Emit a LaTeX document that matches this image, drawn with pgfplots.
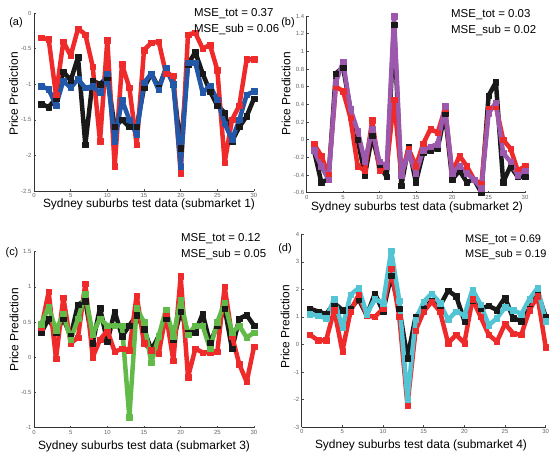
\documentclass[border=0pt]{standalone}
\usepackage{fontspec}
\setmainfont{Liberation Sans}
\usepackage{pgfplots}
\usepackage{pgfplotstable}
\pgfplotsset{compat=1.18}
\definecolor{cred}{RGB}{238,42,42}
\definecolor{cblk}{RGB}{25,25,25}
\definecolor{cblue}{RGB}{35,88,168}
\definecolor{cpurp}{RGB}{155,88,172}
\definecolor{cgreen}{RGB}{98,186,72}
\definecolor{ccyan}{RGB}{82,196,212}

\pgfplotstableread{
x blk red col
1 -1.28 -0.35 -1.03
2 -1.32 -0.37 -1.07
3 -1.20 -1.15 -1.30
4 -0.82 -0.40 -0.95
5 -0.95 -0.60 -1.05
6 -0.62 -0.22 -0.93
7 -1.85 -0.30 -1.05
8 -0.95 -0.75 -1.03
9 -1.00 -1.80 -1.12
10 -0.90 -0.38 -0.85
11 -1.60 -2.15 -1.80
12 -1.50 -0.72 -1.22
13 -1.60 -1.05 -1.50
14 -1.60 -1.85 -1.70
15 -1.05 -0.52 -0.98
16 -0.85 -0.42 -0.85
17 -1.05 -0.40 -1.08
18 -0.78 -0.85 -0.77
19 -1.00 -0.88 -1.00
20 -1.90 -2.25 -2.15
21 -0.72 -0.30 -0.70
22 -0.55 -0.28 -0.70
23 -0.85 -0.50 -1.12
24 -1.10 -0.45 -1.02
25 -1.30 -0.80 -1.22
26 -1.40 -2.10 -1.55
27 -1.80 -1.50 -1.78
28 -1.60 -1.30 -1.50
29 -1.45 -0.65 -1.15
30 -1.20 -0.65 -1.10
}\dataA

\pgfplotstableread{
x blk red col
1 -0.12 -0.05 -0.12
2 -0.48 -0.18 -0.30
3 -0.45 -0.40 -0.45
4 0.75 0.60 0.65
5 0.82 0.55 0.88
6 0.35 0.25 0.35
7 0.00 -0.30 0.10
8 -0.40 -0.35 -0.25
9 0.05 0.22 0.12
10 -0.30 -0.35 -0.25
11 -0.42 -0.30 -0.30
12 1.30 0.45 1.40
13 -0.52 -0.40 -0.40
14 -0.08 -0.10 -0.15
15 -0.48 -0.30 -0.38
16 -0.15 -0.05 -0.12
17 -0.12 0.12 -0.08
18 -0.10 0.08 -0.05
19 0.30 0.35 0.38
20 -0.45 -0.38 -0.38
21 -0.35 -0.18 -0.30
22 -0.48 -0.30 -0.38
23 -0.45 -0.45 -0.45
24 -0.60 -0.50 -0.55
25 0.50 0.35 0.30
26 0.65 0.38 0.42
27 -0.48 0.00 -0.15
28 -0.30 -0.10 -0.25
29 -0.42 -0.35 -0.40
30 -0.42 -0.30 -0.35
}\dataB

\pgfplotstableread{
x blk red col
1 0.35 0.42 0.47
2 0.55 0.93 0.72
3 0.35 -0.02 0.38
4 0.55 0.85 0.62
5 0.30 0.20 0.25
6 0.75 0.28 0.55
7 0.80 1.05 0.90
8 0.20 0.00 0.33
9 0.70 0.25 0.55
10 0.22 0.38 0.45
11 0.65 0.08 0.45
12 0.30 0.12 0.45
13 0.45 0.10 -0.85
14 0.60 0.88 0.70
15 0.40 0.20 0.50
16 0.10 0.10 -0.08
17 0.30 0.05 0.30
18 0.55 0.62 0.68
19 0.25 -0.05 0.30
20 0.65 1.15 0.82
21 0.35 -0.28 0.32
22 0.35 0.12 0.45
23 0.62 0.07 0.45
24 0.20 0.07 0.12
25 0.45 0.08 0.50
26 0.70 1.00 0.78
27 0.12 0.30 0.35
28 0.55 -0.10 0.45
29 0.60 -0.35 0.28
30 0.45 0.15 0.35
}\dataC

\pgfplotstableread{
x blk red col
1 1.30 0.35 1.10
2 1.20 0.15 1.05
3 1.10 0.15 0.95
4 1.50 1.25 1.65
5 1.25 -0.25 0.60
6 1.30 1.20 1.80
7 1.65 1.80 2.05
8 1.05 1.05 1.10
9 1.85 1.00 1.65
10 1.20 1.30 1.50
11 2.50 2.75 3.40
12 1.30 1.00 1.60
13 -0.50 -2.20 -2.00
14 1.00 0.50 0.90
15 1.30 1.20 1.55
16 1.60 1.55 1.85
17 1.40 1.20 1.50
18 1.95 0.05 0.90
19 1.75 0.35 1.20
20 0.85 0.05 1.05
21 1.60 1.65 2.00
22 1.30 1.00 1.45
23 1.40 0.35 0.70
24 1.25 0.10 0.95
25 1.70 0.75 1.35
26 0.95 0.40 1.25
27 0.85 0.35 1.10
28 1.30 1.25 1.65
29 1.90 1.75 2.05
30 1.00 -0.10 0.85
}\dataD

\pgfplotsset{
  panel/.style={
    scale only axis, anchor=south west,
    axis x line=bottom, axis y line=left,
    axis line style={-, black!80, line width=0.6bp},
    xmin=0, xmax=30, xtick={0,5,...,30},
    tick align=inside, major tick length=2bp,
    tick style={black!70, line width=0.5bp},
    tick label style={font=\fontsize{6}{6}\selectfont, text=black!60},
    xticklabel style={yshift=1bp},
    yticklabel style={xshift=1bp},
    /pgf/number format/assume math mode=true,
    clip=false,
  },
  ser/.style={color=#1, line width=4.5bp, line join=round, line cap=round, mark=square*, mark size=2.7bp, mark options={solid, line width=0.3bp}},
}

\begin{document}
\begin{tikzpicture}
\useasboundingbox (0,0) rectangle (549bp,-453bp);

% (a)
\begin{axis}[panel, at={(34bp,-191bp)}, width=220bp, height=178bp,
  ymin=-2.5, ymax=0, ytick={-2.5,-2,-1.5,-1,-0.5,0}]
\addplot[ser=cblk] table[x=x,y=blk] {\dataA};
\addplot[ser=cred] table[x=x,y=red] {\dataA};
\addplot[ser=cblue] table[x=x,y=col] {\dataA};
\end{axis}

% (b)
\begin{axis}[panel, at={(306.7bp,-192.7bp)}, width=218.3bp, height=176.7bp,
  ymin=-0.6, ymax=1.4, ytick={-0.6,-0.4,-0.2,0,0.2,0.4,0.6,0.8,1,1.2,1.4}]
\addplot[ser=cblk] table[x=x,y=blk] {\dataB};
\addplot[ser=cred] table[x=x,y=red] {\dataB};
\addplot[ser=cpurp] table[x=x,y=col] {\dataB};
\end{axis}

% (c)
\begin{axis}[panel, at={(34bp,-427.7bp)}, width=220bp, height=176bp,
  ymin=-1, ymax=1.5, ytick={-1,-0.5,0,0.5,1,1.5}]
\addplot[ser=cblk] table[x=x,y=blk] {\dataC};
\addplot[ser=cred] table[x=x,y=red] {\dataC};
\addplot[ser=cgreen] table[x=x,y=col] {\dataC};
\end{axis}

% (d)
\begin{axis}[panel, at={(301.7bp,-427bp)}, width=244bp, height=192.7bp,
  ymin=-3, ymax=4, ytick={-3,-2,-1,0,1,2,3,4}]
\addplot[ser=cblk] table[x=x,y=blk] {\dataD};
\addplot[ser=cred] table[x=x,y=red] {\dataD};
\addplot[ser=ccyan] table[x=x,y=col] {\dataD};
\end{axis}

\tikzset{lab/.style={font=\fontsize{12}{12}\selectfont, inner sep=0pt},
         mse/.style={font=\fontsize{11.5}{11.5}\selectfont, inner sep=0pt, anchor=west},
         pl/.style={font=\fontsize{11}{11}\selectfont, inner sep=0pt}}

% labels
\node[lab] at (149bp,-204bp) {Sydney suburbs test data (submarket 1)};
\node[lab] at (417bp,-207bp) {Sydney suburbs test data (submarket 2)};
\node[lab] at (144bp,-446bp) {Sydney suburbs test data (submarket 3)};
\node[lab] at (421bp,-445bp) {Sydney suburbs test data (submarket 4)};
\node[lab, rotate=90] at (13.5bp,-94bp) {Price Prediction};
\node[lab, rotate=90] at (286bp,-94bp) {Price Prediction};
\node[lab, rotate=90] at (14bp,-330bp) {Price Prediction};
\node[lab, rotate=90] at (285bp,-327bp) {Price Prediction};

\node[pl] at (16bp,-23bp) {(a)};
\node[pl] at (288bp,-23bp) {(b)};
\node[pl] at (12bp,-253bp) {(c)};
\node[pl] at (285bp,-249bp) {(d)};

\node[mse] at (194bp,-14bp) {MSE\_tot = 0.37};
\node[mse] at (194bp,-29bp) {MSE\_sub = 0.06};
\node[mse] at (451bp,-15bp) {MSE\_tot = 0.03};
\node[mse] at (451bp,-30bp) {MSE\_sub = 0.02};
\node[mse] at (181bp,-239bp) {MSE\_tot = 0.12};
\node[mse] at (181bp,-254bp) {MSE\_sub = 0.05};
\node[mse, font=\fontsize{11}{11}\selectfont] at (465bp,-240bp) {MSE\_tot = 0.69};
\node[mse, font=\fontsize{11}{11}\selectfont] at (465bp,-255bp) {MSE\_sub = 0.19};
\end{tikzpicture}
\end{document}
